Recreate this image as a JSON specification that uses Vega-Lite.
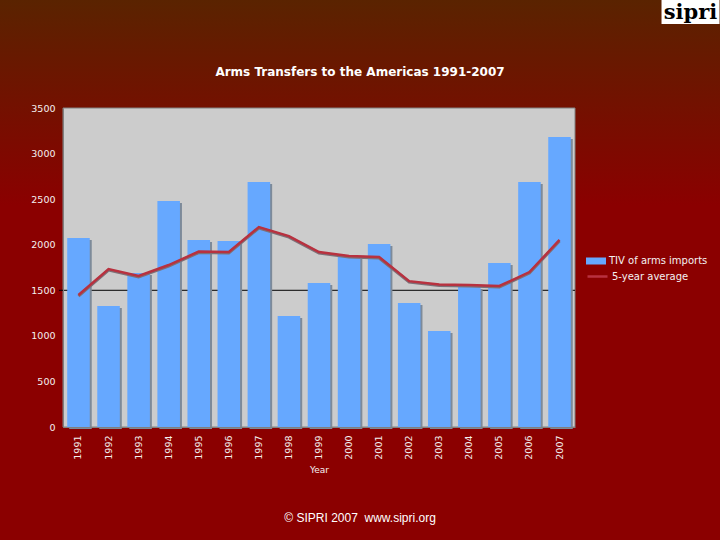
{
  "$schema": "https://vega.github.io/schema/vega-lite/v6.json",
  "width": 512,
  "height": 319,
  "autosize": "none",
  "padding": {"left": 63, "top": 108, "right": 145, "bottom": 113},
  "background": "#8b0000",
  "title": {
    "text": "Arms Transfers to the Americas 1991-2007",
    "font": "DejaVu Sans",
    "fontSize": 12,
    "fontWeight": "bold",
    "color": "#ffffff",
    "anchor": "middle",
    "dx": 41,
    "dy": 79,
    "offset": 0
  },
  "config": {
    "view": {"stroke": null},
    "axis": {
      "labelFont": "DejaVu Sans",
      "labelFontSize": 9.5,
      "labelColor": "#f4f0f0",
      "titleFont": "DejaVu Sans",
      "titleFontSize": 9,
      "titleFontWeight": "normal",
      "titleColor": "#f4f0f0",
      "domainColor": "#808080",
      "ticks": false,
      "grid": false
    },
    "legend": {
      "labelFont": "DejaVu Sans",
      "labelFontSize": 10,
      "labelColor": "#f4f0f0",
      "orient": "none",
      "title": null,
      "symbolSize": 400,
      "labelOffset": 3
    }
  },
  "data": {
    "values": [
      {"year": "1991", "imports": 2074, "average": 1448},
      {"year": "1992", "imports": 1328, "average": 1733},
      {"year": "1993", "imports": 1690, "average": 1657},
      {"year": "1994", "imports": 2480, "average": 1777},
      {"year": "1995", "imports": 2052, "average": 1925},
      {"year": "1996", "imports": 2040, "average": 1920},
      {"year": "1997", "imports": 2688, "average": 2194},
      {"year": "1998", "imports": 1218, "average": 2095},
      {"year": "1999", "imports": 1580, "average": 1920},
      {"year": "2000", "imports": 1865, "average": 1876},
      {"year": "2001", "imports": 2008, "average": 1865},
      {"year": "2002", "imports": 1360, "average": 1600},
      {"year": "2003", "imports": 1053, "average": 1563},
      {"year": "2004", "imports": 1536, "average": 1558},
      {"year": "2005", "imports": 1800, "average": 1547},
      {"year": "2006", "imports": 2688, "average": 1700},
      {"year": "2007", "imports": 3182, "average": 2052}
    ]
  },
  "encoding": {
    "x": {
      "field": "year",
      "type": "ordinal",
      "title": "Year",
      "scale": {"paddingInner": 0.25, "paddingOuter": 0.14},
      "axis": {"labelAngle": -90, "labelPadding": 8, "titlePadding": 6, "zindex": 1}
    }
  },
  "layer": [
    {
      "data": {"values": [{"panel": "window"}]},
      "mark": {
        "type": "rect",
        "width": 720,
        "height": 540,
        "xOffset": 41,
        "yOffset": 2.5,
        "color": {
          "gradient": "linear",
          "x1": 0, "y1": 0, "x2": 0, "y2": 1,
          "stops": [
            {"offset": 0, "color": "#5a2300"},
            {"offset": 0.38, "color": "#8b0000"},
            {"offset": 1, "color": "#8b0000"}
          ]
        }
      },
      "encoding": {
        "x": {"datum": "1999", "axis": {"labelAngle": -90, "labelPadding": 8, "titlePadding": 6, "zindex": 1, "title": "Year"}},
        "y": {
          "datum": 1750,
          "scale": {"domain": [0, 3500]},
          "axis": {"title": null, "values": [0, 500, 1000, 1500, 2000, 2500, 3000, 3500], "format": "d", "labelPadding": 8, "zindex": 1}
        }
      }
    },
    {
      "data": {"values": [{"panel": "plot"}]},
      "mark": {"type": "rect", "width": 512, "height": 319, "color": "#cccccc", "stroke": "#808080", "strokeWidth": 1},
      "encoding": {"x": {"datum": "1999"}, "y": {"datum": 1750}}
    },
    {
      "data": {"values": [{"level": 1500}]},
      "mark": {"type": "rule", "color": "#000000", "strokeWidth": 1},
      "encoding": {"x": {"value": -4}, "x2": {"value": 512}, "y": {"field": "level", "type": "quantitative"}}
    },
    {
      "mark": {"type": "bar", "color": "#7d8a99", "xOffset": 2, "yOffset": 2, "y2Offset": 0.01},
      "encoding": {"y": {"field": "imports", "type": "quantitative"}}
    },
    {
      "mark": {"type": "bar"},
      "encoding": {
        "y": {"field": "imports", "type": "quantitative"},
        "color": {
          "datum": "TIV of arms imports",
          "scale": {"range": ["#66a8ff"]},
          "legend": {"legendX": 523, "legendY": 143, "symbolType": "M-1,-0.35H1V0.35H-1Z", "symbolStrokeWidth": 0}
        }
      }
    },
    {
      "mark": {"type": "line", "color": "#7d7078", "strokeWidth": 3, "yOffset": 1},
      "encoding": {"y": {"field": "average", "type": "quantitative"}}
    },
    {
      "mark": {"type": "line", "strokeWidth": 2.5},
      "encoding": {
        "y": {"field": "average", "type": "quantitative"},
        "stroke": {
          "datum": "5-year average",
          "scale": {"range": ["#b8313f"]},
          "legend": {
            "legendX": 523,
            "legendY": 157,
            "symbolType": "stroke",
            "encode": {"symbols": {"update": {"strokeWidth": {"value": 2.5}, "stroke": {"value": "#c8282d"}}}}
          }
        }
      }
    },
    {
      "data": {"values": [{"note": "© SIPRI 2007\u00a0 www.sipri.org"}]},
      "mark": {"type": "text", "font": "Liberation Sans", "fontSize": 12, "color": "#ffffff", "dx": 11, "dy": 91},
      "encoding": {"x": {"datum": "2000"}, "y": {"datum": 0}, "text": {"field": "note"}}
    },
    {
      "data": {"values": [{"logo": "sipri"}]},
      "mark": {"type": "rect", "color": "#ffffff", "width": 58, "height": 24, "xOffset": 131, "yOffset": -96},
      "encoding": {"x": {"datum": "2007"}, "y": {"datum": 3500}}
    },
    {
      "data": {"values": [{"logo": "sipri"}]},
      "mark": {"type": "text", "font": "DejaVu Serif", "fontSize": 21, "fontWeight": "bold", "color": "#000000", "dx": 131, "dy": -95},
      "encoding": {"x": {"datum": "2007"}, "y": {"datum": 3500}, "text": {"field": "logo"}}
    }
  ]
}
